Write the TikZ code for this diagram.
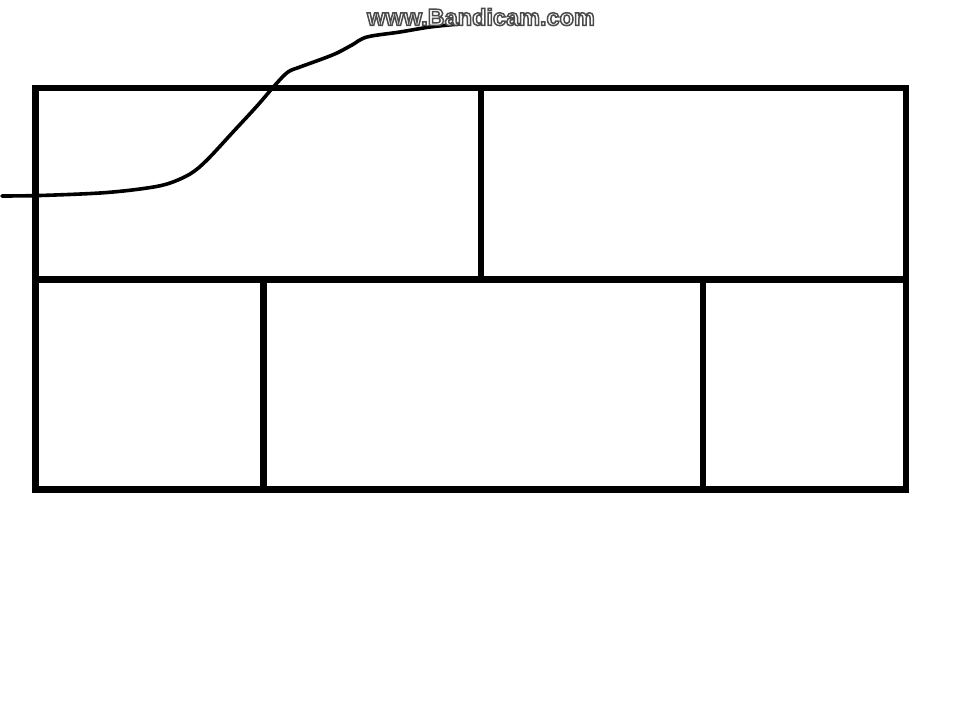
\documentclass[tikz,border=0pt]{standalone}
\usepackage{fontspec}
\newfontfamily\wmfont{Liberation Sans}
\newcommand{\outlinedtext}[1]{\special{pdf:literal direct 2 Tr 1.5 w 0.3 G}#1\special{pdf:literal direct 0 Tr 1 w}}
\begin{document}
\begin{tikzpicture}[x=1pt,y=-1pt,
  wall/.style={line width=6.5pt,black},
  pen/.style={line width=3.6pt,black,line cap=round,line join=round},
  wmtext/.style={text=white,font=\wmfont\bfseries\fontsize{23.5}{23.5}\selectfont}]
\useasboundingbox[fill=white] (0,0) rectangle (960,720);
% outer frame
\coordinate (TL) at (35.5,88);
\coordinate (BR) at (906,489.5);
\draw[wall] (TL) rectangle (BR);
% middle horizontal
\coordinate (ML) at (35.5,279.5);
\coordinate (MR) at (909,279.5);
\draw[wall] (ML) -- (MR);
% dividers
\coordinate (d1a) at (481,88);   \coordinate (d1b) at (481,283);
\coordinate (d2a) at (263.5,279.5); \coordinate (d2b) at (263.5,493);
\coordinate (d3a) at (703,279.5); \coordinate (d3b) at (703,489.5);
\draw[wall] (d1a) -- (d1b);
\draw[wall] (d2a) -- (d2b);
\draw[wall] (d3a) -- (d3b);
% hand-drawn curve
\draw[pen] plot[smooth,tension=0.55] coordinates {
  (2,196) (40,195.5) (100,193) (140,189) (167,184) (190,174) (207,160)
  (233,132) (257,106) (276,84) (288,72) (300,67) (322,59) (337,53)
  (352,45) (367,37) (400,32) (430,27) (460,24)};
% watermark
\node[wmtext] (wm) at (481,17) {\outlinedtext{www.Bandicam.com}};
\end{tikzpicture}
\end{document}
